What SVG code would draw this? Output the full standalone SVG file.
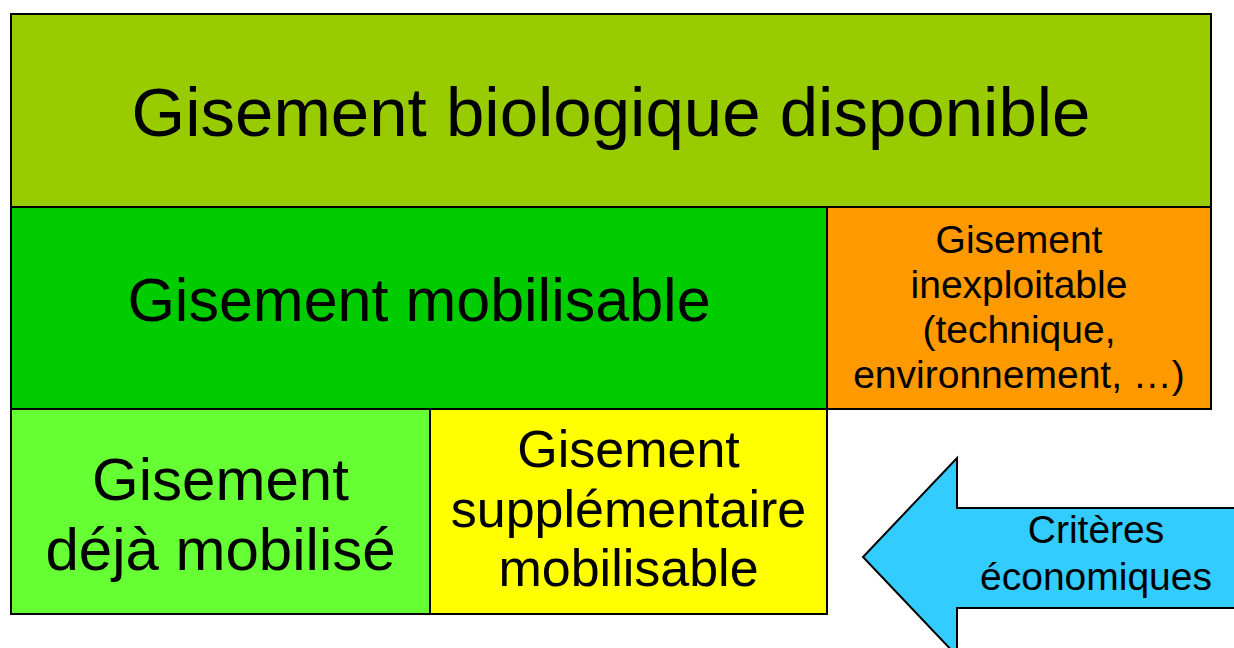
<svg xmlns="http://www.w3.org/2000/svg" width="1234" height="648" viewBox="0 0 1234 648">
<style>
.box{stroke:#000;stroke-width:2}
text{font-family:"Liberation Sans",Arial,sans-serif;fill:#000;text-anchor:middle}
</style>
<rect width="1234" height="648" fill="#fff"/>
<g id="disponible">
<rect class="box" x="11" y="14" width="1200" height="193" fill="#99CC00"/>
<text x="611" y="136" font-size="69">Gisement biologique disponible</text>
</g>
<g id="mobilisable">
<rect class="box" x="11" y="207" width="816" height="202" fill="#00CC00"/>
<text x="419" y="321" font-size="61">Gisement mobilisable</text>
</g>
<g id="inexploitable">
<rect class="box" x="827" y="207" width="384" height="202" fill="#FF9900"/>
<text font-size="39"><tspan x="1019" y="253">Gisement</tspan><tspan x="1019" y="298">inexploitable</tspan><tspan x="1019" y="343">(technique,</tspan><tspan x="1019" y="388">environnement, …)</tspan></text>
</g>
<g id="deja">
<rect class="box" x="11" y="409" width="419" height="205" fill="#66FF33"/>
<text font-size="60"><tspan x="220.5" y="500">Gisement</tspan><tspan x="220.5" y="570">déjà mobilisé</tspan></text>
</g>
<g id="supplementaire">
<rect class="box" x="430" y="409" width="397" height="205" fill="#FFFF00"/>
<text font-size="52"><tspan x="628.5" y="467">Gisement</tspan><tspan x="628.5" y="526.5">supplémentaire</tspan><tspan x="628.5" y="586">mobilisable</tspan></text>
</g>
<g id="criteres">
<path class="box" d="M1240 508 L957 508 L957 458 L863 557 L957 656 L957 608 L1240 608 Z" fill="#33CCFF"/>
<text font-size="39"><tspan x="1096" y="543">Critères</tspan><tspan x="1096" y="590">économiques</tspan></text>
</g>
<g id="connectors"/>
</svg>
